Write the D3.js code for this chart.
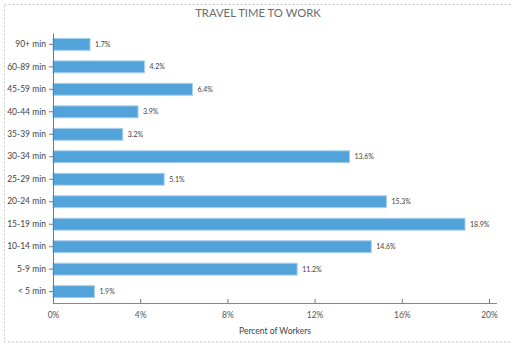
<!DOCTYPE html>
<html><head><meta charset="utf-8">
<script src="https://cdn.jsdelivr.net/npm/d3@7"></script>
<style>
body{margin:0;background:#fff;}
svg{display:block;font-family:Lato, "Open Sans", sans-serif;}
</style></head>
<body><svg id="c" width="512" height="349"></svg>
<script>
const categories = ["90+ min","60-89 min","45-59 min","40-44 min","35-39 min","30-34 min","25-29 min","20-24 min","15-19 min","10-14 min","5-9 min","< 5 min"];
const values = [1.7,4.2,6.4,3.9,3.2,13.6,5.1,15.3,18.9,14.6,11.2,1.9];
const xTicks = [0,4,8,12,16,20];
const title = "TRAVEL TIME TO WORK";
const xLabel = "Percent of Workers";

const svg = d3.select("#c");
svg.append("rect").attr("x",4.5).attr("y",4.5).attr("width",520).attr("height",337.5)
  .attr("fill","none").attr("stroke","#c8c8c8").attr("stroke-dasharray","2,2");

const m = {left:53, right:489, top:33, bottom:303};
const x = d3.scaleLinear().domain([0,20]).range([m.left,m.right]);
const y = d3.scaleBand().domain(categories).range([m.top, m.bottom]).paddingInner(0.47).paddingOuter(0.24);

svg.append("text").attr("x",258).attr("y",17).attr("text-anchor","middle")
  .attr("fill","#6b6b6b").attr("font-size","11.3px").text(title);

svg.append("g").selectAll("rect").data(values).join("rect")
  .attr("x",x(0)).attr("y",(d,i)=>y(categories[i]))
  .attr("width",d=>x(d)-x(0)).attr("height",y.bandwidth())
  .attr("fill","#52a3d9").attr("stroke","#a9d1ef").attr("stroke-width",1);

svg.append("g").selectAll("text").data(values).join("text")
  .attr("x",d=>x(d)+5).attr("y",(d,i)=>y(categories[i])+y.bandwidth()/2+2.5)
  .attr("font-size","7px").attr("fill","#444").text(d=>d.toFixed(1)+"%");

const ya = svg.append("g").attr("transform",`translate(${m.left},0)`)
  .call(d3.axisLeft(y).tickSize(4).tickSizeOuter(0));
ya.select(".domain").attr("stroke","#777");
ya.selectAll(".tick line").attr("stroke","#777");
ya.selectAll(".tick text").attr("font-size","8.5px").attr("fill","#444").attr("font-family","Lato");

const xa = svg.append("g").attr("transform",`translate(0,${m.bottom})`)
  .call(d3.axisBottom(x).tickValues(xTicks).tickFormat(d=>d+"%").tickSize(4).tickSizeOuter(0));
xa.select(".domain").attr("d",`M${m.left},0.5H497`).attr("stroke","#888");
xa.selectAll(".tick line").attr("stroke","#777").attr("transform","translate(0,-4)");
xa.selectAll(".tick text").attr("font-size","8.5px").attr("fill","#555").attr("font-family","Lato").attr("dy","0.9em");

svg.append("text").attr("x",275).attr("y",334).attr("text-anchor","middle")
  .attr("font-size","8.5px").attr("fill","#444").text(xLabel);
</script></body></html>
